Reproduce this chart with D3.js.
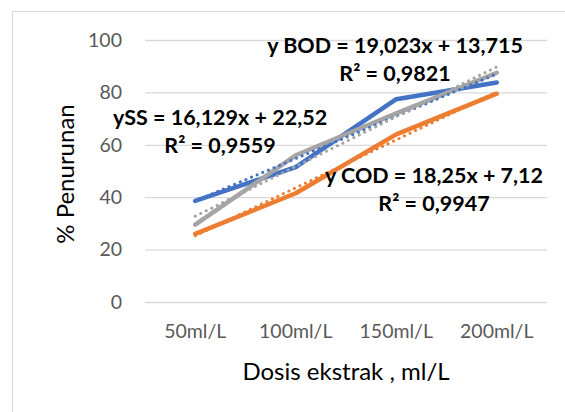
<!DOCTYPE html>
<html>
<head>
<meta charset="utf-8">
<script src="https://cdn.jsdelivr.net/npm/d3@7"></script>
<style>
  body { margin: 0; background: #fff; }
  text { font-family: Lato, "Open Sans", sans-serif; }
</style>
</head>
<body>
<div id="chart"></div>
<script>
// data
var doses = ["50ml/L", "100ml/L", "150ml/L", "200ml/L"];
var bod = [38.6, 51.5, 77.4, 83.8];
var cod = [26.0, 41.5, 64.0, 79.5];
var ss = [29.5, 56.0, 72.0, 87.5];
var yTicks = [0, 20, 40, 60, 80, 100];
var eqLabels = [
    { eq: "y BOD = 19,023x + 13,715", r2: "R² = 0,9821", x: 395, y: 45 },
    { eq: "ySS = 16,129x + 22,52", r2: "R² = 0,9559", x: 220, y: 117 },
    { eq: "y COD = 18,25x + 7,12", r2: "R² = 0,9947", x: 434, y: 175 }
];

var W = 565, H = 412;
var margin = { left: 145, right: 18, top: 40, bottom: 110 };
var width = W - margin.left - margin.right,
    height = H - margin.top - margin.bottom;

var root = d3.select("#chart").append("svg")
    .attr("width", W)
    .attr("height", H);

// chart area border
root.append("rect")
    .attr("x", 12.5).attr("y", 11.5)
    .attr("width", 600).attr("height", 450)
    .attr("fill", "none")
    .attr("stroke", "#d9d9d9");

var svg = root.append("g")
    .attr("transform", "translate(" + margin.left + "," + margin.top + ")");

var x = d3.scaleBand().domain(doses).range([0, width]);
var y = d3.scaleLinear().domain([0, 100]).range([height, 0]);

// gridlines
svg.append("g")
    .attr("class", "grid")
    .call(d3.axisLeft(y).tickValues(yTicks).tickSize(-width).tickFormat(""))
    .call(function(g) { g.select(".domain").remove(); })
    .selectAll("line")
    .attr("stroke", "#d9d9d9")
    .attr("stroke-width", 1.3);

var yAxis = svg.append("g")
    .call(d3.axisLeft(y).tickValues(yTicks).tickSize(0).tickPadding(23));
yAxis.select(".domain").remove();
yAxis.selectAll("text")
    .attr("font-size", "19.5px")
    .attr("fill", "#595959")
    .style("font-family", "Lato, sans-serif");

var xAxis = svg.append("g")
    .attr("transform", "translate(0," + height + ")")
    .call(d3.axisBottom(x).tickSize(0).tickPadding(22));
xAxis.select(".domain").remove();
xAxis.selectAll("text")
    .attr("font-size", "19.5px")
    .attr("fill", "#595959")
    .style("font-family", "Lato, sans-serif");

// axis titles
svg.append("text")
    .attr("transform", "rotate(-90)")
    .attr("x", -(174 - margin.top))
    .attr("y", 66 - margin.left)
    .attr("dy", "0.35em")
    .attr("text-anchor", "middle")
    .attr("font-size", "24px")
    .attr("fill", "#000")
    .text("% Penurunan");

svg.append("text")
    .attr("x", width / 2)
    .attr("y", height + 70)
    .attr("dy", "0.35em")
    .attr("text-anchor", "middle")
    .attr("font-size", "24px")
    .attr("fill", "#000")
    .text("Dosis ekstrak , ml/L");

var cx = function(d, i) { return x(doses[i]) + x.bandwidth() / 2; };

// least squares trend, x = 1..n as Excel does for category axis
function trend(vals) {
    var xs = vals.map(function(d, i) { return i + 1; });
    var mx = d3.mean(xs), my = d3.mean(vals);
    var b = d3.sum(xs, function(v, i) { return (v - mx) * (vals[i] - my); }) /
            d3.sum(xs, function(v) { return (v - mx) * (v - mx); });
    var a = my - b * mx;
    return xs.map(function(v) { return a + b * v; });
}

var series = [
    { vals: bod, color: "#4472c4" },
    { vals: cod, color: "#ed7d31" },
    { vals: ss, color: "#a5a5a5" }
];

var line = d3.line().x(cx).y(function(d) { return y(d); });

series.forEach(function(s) {
    svg.append("path")
        .datum(s.vals)
        .attr("d", line)
        .attr("fill", "none")
        .attr("stroke", s.color)
        .attr("stroke-width", 4.5)
        .attr("stroke-linecap", "round")
        .attr("stroke-linejoin", "round");
});

series.forEach(function(s) {
    svg.append("path")
        .datum(trend(s.vals))
        .attr("d", line)
        .attr("fill", "none")
        .attr("stroke", s.color)
        .attr("stroke-width", 3)
        .attr("stroke-linecap", "round")
        .attr("stroke-dasharray", "0.1 6");
});

// trendline equations
eqLabels.forEach(function(l) {
    var t = root.append("text")
        .attr("text-anchor", "middle")
        .attr("font-size", "21.5px")
        .attr("font-weight", "bold")
        .attr("fill", "#000");
    t.append("tspan").attr("x", l.x).attr("y", l.y).attr("dy", "0.35em").text(l.eq);
    t.append("tspan").attr("x", l.x).attr("y", l.y + 28.5).attr("dy", "0.35em").text(l.r2);
});
</script>
</body>
</html>
